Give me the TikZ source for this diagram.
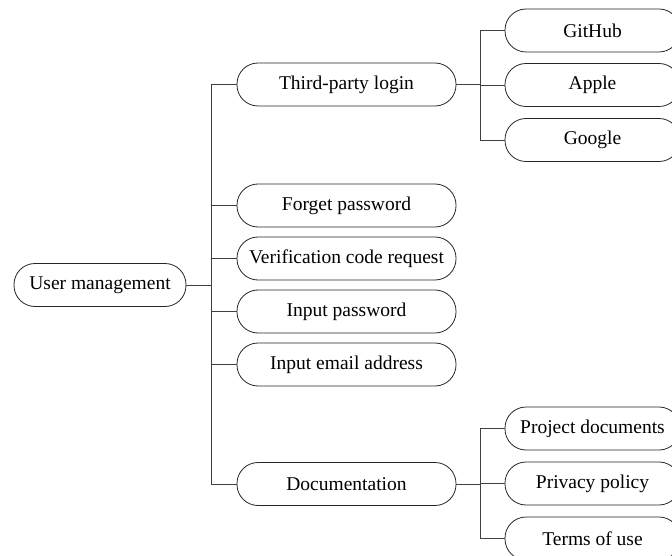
\documentclass[tikz,border=0pt]{standalone}
\usepackage{fontspec}
\setmainfont{Liberation Serif}
\tikzset{
  pill/.style={draw=black!85, line width=0.8pt, rounded corners=21pt, minimum height=43pt, inner sep=2pt, font=\fontsize{19.5}{23}\selectfont},
  kroot/.style={pill, minimum width=172pt},
  kmid/.style={pill, minimum width=219pt},
  kleaf/.style={pill, minimum width=175pt},
  link/.style={draw=black!75, line width=0.8pt},
}
\begin{document}
\begin{tikzpicture}[x=1pt,y=-1pt]
    \useasboundingbox (0,0) rectangle (672,556);
    \node[kroot] (root) at (100,285) {User management};
    \node[kmid] (third) at (346.5,84.5) {Third-party login};
    \node[kmid] (forget) at (346.5,205.5) {Forget password};
    \node[kmid] (verify) at (346.5,258.5) {Verification code request};
    \node[kmid] (inpass) at (346.5,311.5) {Input password};
    \node[kmid] (inmail) at (346.5,364.5) {Input email address};
    \node[kmid] (docs) at (346.5,484) {Documentation};
    \node[kleaf] (github) at (592.5,30.5) {GitHub};
    \node[kleaf] (apple) at (592.5,85) {Apple};
    \node[kleaf] (google) at (592.5,140) {Google};
    \node[kleaf] (project) at (592.5,428.5) {Project documents};
    \node[kleaf] (privacy) at (592.5,483.5) {Privacy policy};
    \node[kleaf] (terms) at (592.5,538.5) {Terms of use};
    % root to second level
    \foreach \kid in {third, forget, verify, inpass, inmail, docs}
      \draw[link] (root.east) -- ++(25,0) |- (\kid.west);
    % login providers
    \foreach \kid in {github, apple, google}
      \draw[link] (third.east) -- ++(24,0) |- (\kid.west);
    % documents
    \foreach \kid in {project, privacy, terms}
      \draw[link] (docs.east) -- ++(24,0) |- (\kid.west);
  \end{tikzpicture}
\end{document}
